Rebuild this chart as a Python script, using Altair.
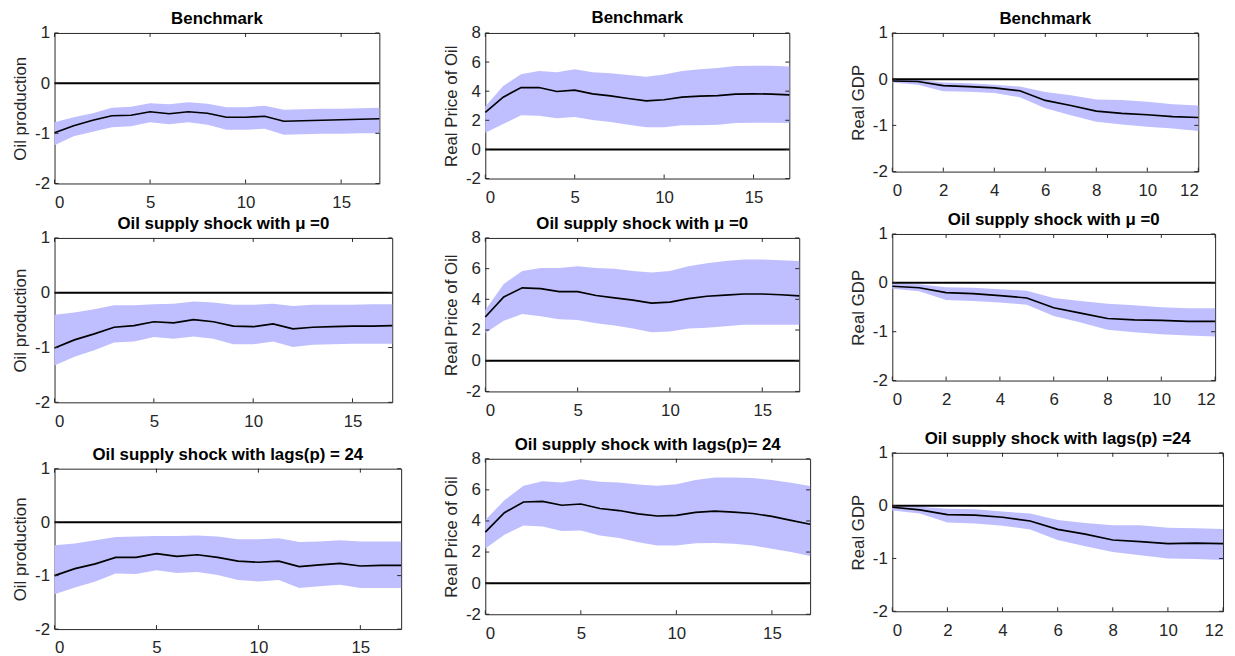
import altair as alt
import pandas as pd

FONT = "Liberation Sans"
BAND = "#bfbfff"
INK = "#262626"

# ---------------- data ----------------
h18 = list(range(18))
h13 = list(range(13))

# Benchmark
op_b_line = [-0.99, -0.85, -0.74, -0.65, -0.64, -0.57, -0.61, -0.57, -0.60, -0.68, -0.68, -0.66, -0.76, -0.75, -0.74, -0.73, -0.72, -0.71]
op_b_hi = [-0.78, -0.68, -0.60, -0.49, -0.47, -0.40, -0.42, -0.38, -0.41, -0.48, -0.48, -0.45, -0.53, -0.52, -0.51, -0.51, -0.50, -0.49]
op_b_lo = [-1.24, -1.06, -0.97, -0.88, -0.86, -0.78, -0.82, -0.78, -0.83, -0.93, -0.93, -0.91, -1.03, -1.02, -1.01, -1.01, -1.00, -1.00]

pr_b_line = [2.55, 3.59, 4.25, 4.25, 3.98, 4.07, 3.82, 3.68, 3.50, 3.34, 3.41, 3.59, 3.66, 3.70, 3.80, 3.82, 3.80, 3.75]
pr_b_hi = [2.95, 4.36, 5.16, 5.39, 5.30, 5.50, 5.30, 5.23, 5.11, 5.00, 5.14, 5.39, 5.50, 5.59, 5.73, 5.75, 5.75, 5.70]
pr_b_lo = [1.14, 1.75, 2.34, 2.32, 2.14, 2.23, 2.02, 1.89, 1.70, 1.52, 1.52, 1.66, 1.66, 1.70, 1.82, 1.84, 1.84, 1.82]

gd_b_line = [-0.04, -0.05, -0.14, -0.16, -0.19, -0.25, -0.46, -0.57, -0.69, -0.74, -0.77, -0.81, -0.83]
gd_b_hi = [-0.01, -0.01, -0.07, -0.09, -0.12, -0.16, -0.28, -0.35, -0.44, -0.45, -0.49, -0.54, -0.57]
gd_b_lo = [-0.07, -0.12, -0.26, -0.27, -0.30, -0.39, -0.63, -0.78, -0.92, -0.98, -1.03, -1.07, -1.12]

# mu = 0
op_m_line = [-1.01, -0.86, -0.75, -0.63, -0.60, -0.53, -0.55, -0.49, -0.53, -0.61, -0.62, -0.57, -0.66, -0.63, -0.62, -0.61, -0.61, -0.60]
op_m_hi = [-0.40, -0.36, -0.30, -0.23, -0.23, -0.21, -0.20, -0.16, -0.18, -0.22, -0.22, -0.20, -0.24, -0.22, -0.22, -0.22, -0.21, -0.21]
op_m_lo = [-1.33, -1.17, -1.05, -0.91, -0.89, -0.81, -0.84, -0.80, -0.84, -0.94, -0.94, -0.89, -0.99, -0.95, -0.94, -0.93, -0.93, -0.93]

pr_m_line = [2.85, 4.15, 4.75, 4.70, 4.50, 4.50, 4.25, 4.10, 3.95, 3.75, 3.82, 4.05, 4.20, 4.28, 4.35, 4.35, 4.30, 4.22]
pr_m_hi = [3.30, 5.00, 5.85, 6.05, 6.05, 6.15, 6.05, 6.00, 5.85, 5.75, 5.85, 6.15, 6.35, 6.50, 6.60, 6.60, 6.55, 6.50]
pr_m_lo = [1.80, 2.60, 3.05, 2.90, 2.70, 2.65, 2.45, 2.30, 2.10, 1.85, 1.90, 2.10, 2.15, 2.25, 2.35, 2.35, 2.35, 2.35]

gd_m_line = [-0.07, -0.10, -0.20, -0.22, -0.26, -0.31, -0.51, -0.62, -0.73, -0.76, -0.77, -0.79, -0.79]
gd_m_hi = [-0.02, -0.03, -0.09, -0.10, -0.13, -0.16, -0.31, -0.37, -0.43, -0.46, -0.50, -0.52, -0.52]
gd_m_lo = [-0.12, -0.17, -0.35, -0.37, -0.40, -0.45, -0.68, -0.81, -0.96, -1.01, -1.05, -1.08, -1.10]

# lags(p) = 24
op_l_line = [-1.00, -0.87, -0.78, -0.66, -0.66, -0.59, -0.64, -0.61, -0.66, -0.73, -0.75, -0.73, -0.83, -0.80, -0.77, -0.82, -0.81, -0.81]
op_l_hi = [-0.43, -0.40, -0.34, -0.28, -0.27, -0.26, -0.26, -0.25, -0.27, -0.32, -0.32, -0.30, -0.37, -0.36, -0.34, -0.36, -0.36, -0.36]
op_l_lo = [-1.35, -1.22, -1.11, -0.96, -0.97, -0.90, -0.95, -0.93, -0.99, -1.08, -1.11, -1.08, -1.23, -1.20, -1.17, -1.23, -1.23, -1.23]

pr_l_line = [3.28, 4.53, 5.22, 5.26, 5.01, 5.09, 4.80, 4.67, 4.46, 4.32, 4.36, 4.55, 4.63, 4.57, 4.48, 4.29, 4.04, 3.79]
pr_l_hi = [4.06, 5.33, 6.27, 6.55, 6.48, 6.69, 6.53, 6.48, 6.34, 6.27, 6.36, 6.63, 6.80, 6.80, 6.76, 6.63, 6.46, 6.25]
pr_l_lo = [2.23, 3.12, 3.71, 3.64, 3.35, 3.39, 3.07, 2.91, 2.63, 2.42, 2.42, 2.57, 2.59, 2.53, 2.42, 2.21, 2.00, 1.75]

gd_l_line = [-0.03, -0.08, -0.17, -0.18, -0.22, -0.29, -0.45, -0.54, -0.65, -0.68, -0.72, -0.71, -0.72]
gd_l_hi = [-0.01, -0.02, -0.06, -0.07, -0.11, -0.15, -0.27, -0.33, -0.37, -0.37, -0.42, -0.43, -0.44]
gd_l_lo = [-0.09, -0.15, -0.32, -0.34, -0.38, -0.45, -0.65, -0.77, -0.88, -0.94, -1.00, -1.01, -1.03]

xt_oil = [0, 5, 10, 15]
xt_gdp = [0, 2, 4, 6, 8, 10, 12]
yt_q = [-2, -1, 0, 1]
yt_p = [-2, 0, 2, 4, 6, 8]
ydom_q = [-2, 1]
ydom_p = [-2, 8]

LABEL_EXPR = "datum.value < 0 ? '-' + abs(datum.value) : '' + datum.value"
TICK = 4


def panel(title, ylabel, xs, line, lo, hi, xmax, xticks, ydom, yticks, w, h, toff):
    df = pd.DataFrame({"h": xs, "irf": line, "lo": lo, "hi": hi})
    xsc = alt.Scale(domain=[0, xmax], nice=False, zero=False)
    ysc = alt.Scale(domain=ydom, nice=False, zero=False)
    xax = alt.Axis(values=xticks, labelExpr=LABEL_EXPR, labelPadding=11)
    yax = alt.Axis(values=yticks, labelExpr=LABEL_EXPR, labelPadding=5, titlePadding=5)

    def X(f):
        return alt.X(f, scale=xsc, axis=xax, title=None)

    def Y(f):
        return alt.Y(f, scale=ysc, axis=yax, title=ylabel)

    band = alt.Chart(df).mark_area(color=BAND, opacity=1).encode(
        x=X("h:Q"), y=Y("lo:Q"), y2="hi:Q")
    zero = alt.Chart(pd.DataFrame({"z": [0]})).mark_rule(
        color="black", strokeWidth=2).encode(y=Y("z:Q"))
    irf = alt.Chart(df).mark_line(color="black", strokeWidth=1.7).encode(
        x=X("h:Q"), y=Y("irf:Q"))
    xtd = pd.DataFrame({"t": xticks})
    ytd = pd.DataFrame({"t": yticks})
    tb = alt.Chart(xtd).mark_rule(color=INK, strokeWidth=1).encode(
        x=X("t:Q"), y=alt.value(h), y2=alt.value(h - TICK))
    tt = alt.Chart(xtd).mark_rule(color=INK, strokeWidth=1).encode(
        x=X("t:Q"), y=alt.value(0), y2=alt.value(TICK))
    tl = alt.Chart(ytd).mark_rule(color=INK, strokeWidth=1).encode(
        y=Y("t:Q"), x=alt.value(0), x2=alt.value(TICK))
    tr = alt.Chart(ytd).mark_rule(color=INK, strokeWidth=1).encode(
        y=Y("t:Q"), x=alt.value(w), x2=alt.value(w - TICK))
    return alt.layer(band, zero, irf, tb, tt, tl, tr).properties(
        width=w, height=h,
        title=alt.TitleParams(text=title, fontSize=17, fontWeight="bold", font=FONT,
                              color="black", anchor="middle", offset=toff),
    )


T1 = "Benchmark"
T2 = "Oil supply shock with \u03bc =0"
LQ = "Oil production"
LP = "Real Price of Oil"
LG = "Real GDP"

p1 = panel(T1, LQ, h18, op_b_line, op_b_lo, op_b_hi, 17, xt_oil, ydom_q, yt_q, 328, 152, -4)
p2 = panel(T1, LP, h18, pr_b_line, pr_b_lo, pr_b_hi, 17, xt_oil, ydom_p, yt_p, 307, 147, -3)
p3 = panel(T1, LG, h13, gd_b_line, gd_b_lo, gd_b_hi, 12, xt_gdp, ydom_q, yt_q, 309, 140, -4)

p4 = panel(T2, LQ, h18, op_m_line, op_m_lo, op_m_hi, 17, xt_oil, ydom_q, yt_q, 341, 166, -4)
p5 = panel(T2, LP, h18, pr_m_line, pr_m_lo, pr_m_hi, 17, xt_oil, ydom_p, yt_p, 317, 155, -4)
p6 = panel(T2, LG, h13, gd_m_line, gd_m_lo, gd_m_hi, 12, xt_gdp, ydom_q, yt_q, 326, 148, -4)

p7 = panel("Oil supply shock with lags(p) = 24", LQ, h18, op_l_line, op_l_lo, op_l_hi, 17, xt_oil, ydom_q, yt_q, 350, 162, -4)
p8 = panel("Oil supply shock with lags(p)= 24", LP, h18, pr_l_line, pr_l_lo, pr_l_hi, 17, xt_oil, ydom_p, yt_p, 328, 157, -4)
p9 = panel("Oil supply shock with lags(p) =24", LG, h13, gd_l_line, gd_l_lo, gd_l_hi, 12, xt_gdp, ydom_q, yt_q, 334, 160, -4)

col1 = alt.vconcat(p1, alt.vconcat(p4, p7, spacing=15), spacing=3)
col2 = alt.vconcat(p2, alt.vconcat(p5, p8, spacing=16), spacing=8)
col3 = alt.vconcat(p3, alt.vconcat(p6, p9, spacing=21), spacing=11)

chart = alt.hconcat(col1, alt.hconcat(col2, col3, spacing=35), spacing=37).properties(
    padding={"left": 3, "top": -3, "right": 0, "bottom": 0}
).configure_view(
    stroke=INK, strokeWidth=1
).configure_axis(
    ticks=False, domain=False, grid=False,
    labelFont=FONT, labelFontSize=17, labelColor=INK,
    titleFont=FONT, titleFontSize=17, titleFontWeight="normal", titleColor=INK,
).configure_concat(spacing=10)

chart.save("out.html", embed_options={"renderer": "svg", "actions": False})
